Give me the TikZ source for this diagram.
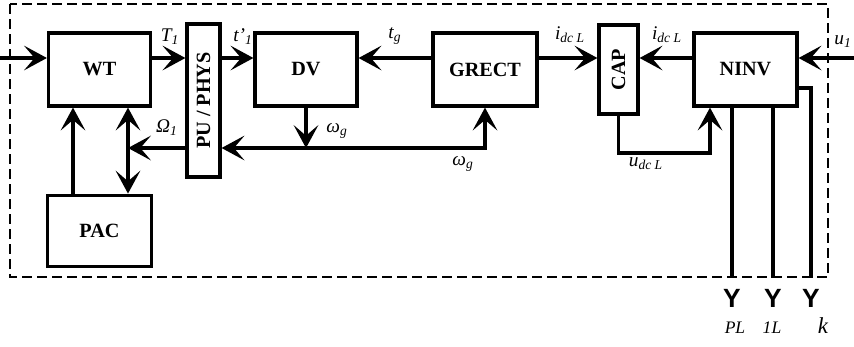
\documentclass[tikz,border=0pt]{standalone}
\usepackage{fontspec}
\usepackage{graphicx}
\setmainfont{Liberation Serif}
\newfontfamily\ysans{Liberation Sans}
\usetikzlibrary{arrows.meta, positioning}

\begin{document}
\begin{tikzpicture}[
    blockbox/.style={draw, line width=1.8pt, minimum width=2.04cm, minimum height=1.46cm,
        font=\fontsize{11.5}{13}\selectfont\bfseries, align=center, inner sep=0pt},
    barbox/.style={draw, line width=1.8pt, font=\fontsize{11.5}{13}\selectfont\bfseries,
        inner sep=0pt, fill=white},
    sig/.style={line width=1.8pt, -{Stealth[length=13pt, width=14pt, inset=6pt]}},
    sigboth/.style={line width=1.8pt, {Stealth[length=13pt, width=14pt, inset=6pt]}-{Stealth[length=13pt, width=14pt, inset=6pt]}},
    wire/.style={line width=1.8pt},
    lbl/.style={font=\fontsize{11}{12}\selectfont\itshape, inner sep=1pt},
    ymark/.style={font=\ysans\fontsize{15}{15}\selectfont\bfseries, inner sep=0pt},
    >=Stealth
]
\useasboundingbox (0,0) rectangle (17.08,-6.92);

% --- frame ---
\draw[line width=1pt, dash pattern=on 0.2cm off 0.1cm] (0.2,-0.08) rectangle (16.56,-5.54);

% --- helper coordinates ---
\coordinate (lvl) at (0,-1.16);
\coordinate (bus) at (0,-2.96);
\coordinate (bot) at (0,-5.56);
\coordinate (inL) at (0,-1.16);
\coordinate (inR) at (17.08,-1.16);
\coordinate (wa) at (1.46,0);
\coordinate (wb) at (2.56,0);
\coordinate (dcl) at (14.2,-3.06);
\coordinate (kout) at (0,-1.76);

% --- blocks ---
\node[blockbox] (WT) at (1.99,-1.39) {WT};
\node[barbox, minimum width=0.66cm, minimum height=3.06cm] (PU) at (4.07,-2.01) {\rotatebox{90}{PU / PHYS}};
\node[blockbox] (DV) at (6.12,-1.39) {DV};
\node[blockbox, minimum width=2.08cm] (GRECT) at (9.70,-1.39) {GRECT};
\node[barbox, minimum width=0.78cm, minimum height=1.78cm] (CAP) at (12.37,-1.39) {\rotatebox{90}{CAP}};
\node[blockbox, minimum width=2.06cm] (NINV) at (14.91,-1.39) {NINV};
\node[blockbox, minimum width=2.08cm, minimum height=1.42cm, below=1.72cm of WT] (PAC) {PAC};

% --- upper signal line ---
\draw[sig] (inL) -- (WT.west |- lvl);
\draw[sig] (WT.east |- lvl) -- (PU.west |- lvl);
\draw[sig] (PU.east |- lvl) -- (DV.west |- lvl);
\draw[sig] (GRECT.west |- lvl) -- (DV.east |- lvl);
\draw[sig] (GRECT.east |- lvl) -- (CAP.west |- lvl);
\draw[sig] (NINV.west |- lvl) -- (CAP.east |- lvl);
\draw[sig] (inR) -- (NINV.east |- lvl);

% --- speed bus ---
\draw[sig] (DV.south) -- (DV.south |- bus);
\draw[sig] (DV.south |- bus) -| (GRECT.south);
\draw[sig] (GRECT.south |- bus) -- (PU.east |- bus);
\draw[sig] (PU.west |- bus) -- (wb |- bus);
\draw[sig] (PAC.north -| wa) -- (WT.south -| wa);
\draw[sigboth] (WT.south -| wb) -- (PAC.north -| wb);

% --- dc link ---
\draw[sig] (CAP.south) |- (dcl) -- (dcl |- NINV.south);

% --- outputs ---
\node[ymark] (y1) at (14.64,-5.96) {Y};
\node[ymark] (y2) at (15.46,-5.96) {Y};
\node[ymark] (y3) at (16.22,-5.96) {Y};
\draw[wire] (NINV.south -| y1) -- (y1 |- bot);
\draw[wire] (NINV.south -| y2) -- (y2 |- bot);
\draw[wire] (NINV.east |- kout) -| (y3 |- bot);
\node[lbl, font=\fontsize{10}{12}\selectfont\itshape] (oPL) at (14.70,-6.56) {PL};
\node[lbl, font=\fontsize{10}{12}\selectfont\itshape] (o1L) at (15.44,-6.56) {1L};
\node[lbl, font=\fontsize{13}{14}\selectfont\itshape] (ok) at (16.46,-6.52) {k};

% --- signal labels ---
\node[lbl] (lT) at (3.40,-0.74) {T\textsubscript{1}};
\node[lbl] (lt) at (4.86,-0.74) {t'\textsubscript{1}};
\node[lbl] (ltg) at (7.90,-0.72) {t\textsubscript{g}};
\node[lbl] (li1) at (11.40,-0.70) {i\textsubscript{dc L}};
\node[lbl] (li2) at (13.34,-0.70) {i\textsubscript{dc L}};
\node[lbl] (lu) at (16.86,-0.84) {u\textsubscript{1}};
\node[lbl] (lOm) at (3.34,-2.56) {Ω\textsubscript{1}};
\node[lbl] (lw1) at (6.74,-2.62) {ω\textsubscript{g}};
\node[lbl] (lw2) at (9.26,-3.28) {ω\textsubscript{g}};
\node[lbl] (lu2) at (12.92,-3.28) {u\textsubscript{dc L}};

\end{tikzpicture}
\end{document}
